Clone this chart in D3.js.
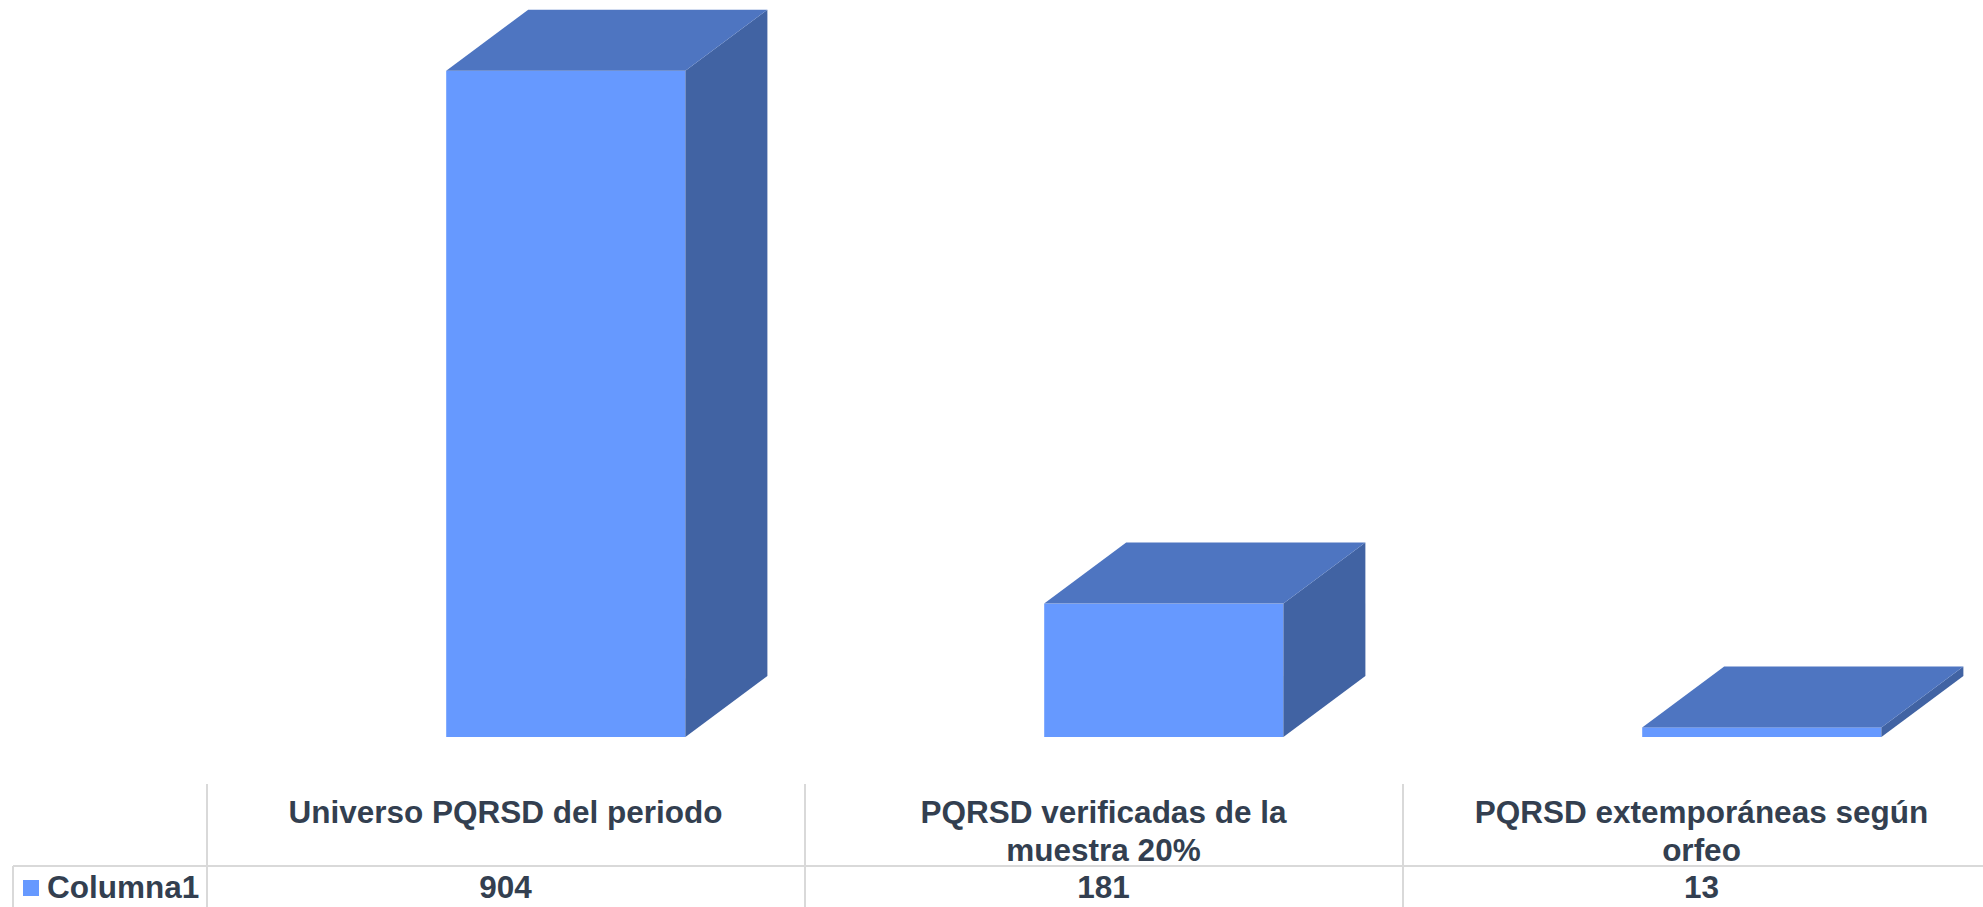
<!DOCTYPE html>
<html><head><meta charset="utf-8">
<script src="https://cdn.jsdelivr.net/npm/d3@7"></script>
<style>
html,body{margin:0;padding:0;background:#fff;overflow:hidden}
svg{display:block;font-family:"Liberation Sans",Arial,sans-serif}
</style></head>
<body>
<svg id="chart" width="1983" height="907"></svg>
<script>
const categories = [
  ["Universo PQRSD del periodo"],
  ["PQRSD verificadas de la", "muestra 20%"],
  ["PQRSD extemporáneas según", "orfeo"]
];
const seriesName = "Columna1";
const values = [904, 181, 13];
const yDomain = [0, 1000];

const svg = d3.select("#chart");
const W = 1983, H = 907;
const colFront = "#6699ff", colTop = "#4e75c1", colSide = "#4163a3";
const textCol = "#333f50", gridCol = "#d9d9d9";

const x = d3.scaleBand().domain(d3.range(categories.length)).range([207, 2001]).padding(0);
const y = d3.scaleLinear().domain(yDomain).range([737, 0]);
const step = x.step();
const bw = step * 0.4, off = step * 0.4;
const dx = 82, dy = -61;

const g = svg.append("g");
values.forEach((v, i) => {
  const x0 = x(i) + off, x1 = x0 + bw;
  const yt = y(v), yb = y(0);
  // front
  g.append("rect").attr("x", x0).attr("y", yt).attr("width", bw).attr("height", yb - yt)
    .attr("fill", colFront);
  // side
  g.append("path").attr("d", `M${x1},${yt}L${x1+dx},${yt+dy}L${x1+dx},${yb+dy}L${x1},${yb}Z`)
    .attr("fill", colSide);
  // top
  g.append("path").attr("d", `M${x0},${yt}L${x0+dx},${yt+dy}L${x1+dx},${yt+dy}L${x1},${yt}Z`)
    .attr("fill", colTop);
});

// data table
const t = svg.append("g");
const rowY = 866;
t.append("line").attr("x1", 13).attr("x2", W).attr("y1", rowY).attr("y2", rowY)
  .attr("stroke", gridCol).attr("stroke-width", 2);
t.append("line").attr("x1", 13).attr("x2", 13).attr("y1", rowY).attr("y2", H)
  .attr("stroke", gridCol).attr("stroke-width", 2);
categories.forEach((c, i) => {
  t.append("line").attr("x1", x(i)).attr("x2", x(i)).attr("y1", 784).attr("y2", H)
    .attr("stroke", gridCol).attr("stroke-width", 2);
});
const cx = i => x(i) + 298.5;
categories.forEach((lines, i) => {
  lines.forEach((ln, k) => {
    t.append("text").attr("x", cx(i)).attr("y", 823 + k * 38)
      .attr("text-anchor", "middle").attr("font-size", 31.5).attr("font-weight", "bold")
      .attr("fill", textCol).text(ln);
  });
  t.append("text").attr("x", cx(i)).attr("y", 898)
    .attr("text-anchor", "middle").attr("font-size", 31.5).attr("font-weight", "bold")
    .attr("fill", textCol).text(d3.format("d")(values[i]));
});
t.append("rect").attr("x", 23).attr("y", 880).attr("width", 16).attr("height", 16).attr("fill", colFront);
t.append("text").attr("x", 47).attr("y", 898).attr("font-size", 31.5).attr("font-weight", "bold")
  .attr("fill", textCol).text(seriesName);
</script>
</body></html>
